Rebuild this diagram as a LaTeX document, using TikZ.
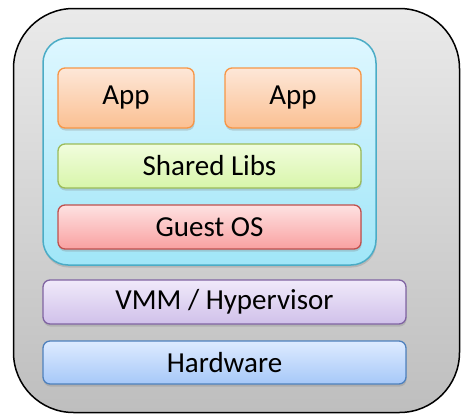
\documentclass[tikz,border=0pt]{standalone}
\usepackage{fontspec}
\setmainfont{Carlito}
\usetikzlibrary{shadows}
\begin{document}
\begin{tikzpicture}[x=1pt,y=-1pt,
  layer/.style={draw, rounded corners=7pt, line width=1.3pt, inner sep=0pt,
    font=\fontsize{29}{32}\selectfont, text=black,
    drop shadow={opacity=0.3, shadow xshift=0.5pt, shadow yshift=-2.5pt}},
  appbox/.style={layer, draw={rgb,255:red,247;green,150;blue,70},
    top color={rgb,255:red,253;green,231;blue,216}, bottom color={rgb,255:red,251;green,192;blue,146}},
  libbox/.style={layer, draw={rgb,255:red,155;green,187;blue,89},
    top color={rgb,255:red,241;green,253;blue,221}, bottom color={rgb,255:red,216;green,245;blue,170}},
  osbox/.style={layer, draw={rgb,255:red,192;green,80;blue,77},
    top color={rgb,255:red,254;green,226;blue,226}, bottom color={rgb,255:red,249;green,160;blue,160}},
  vmmbox/.style={layer, draw={rgb,255:red,128;green,100;blue,162},
    top color={rgb,255:red,240;green,234;blue,250}, bottom color={rgb,255:red,208;green,192;blue,234}},
  hwbox/.style={layer, draw={rgb,255:red,79;green,129;blue,189},
    top color={rgb,255:red,222;green,235;blue,255}, bottom color={rgb,255:red,166;green,200;blue,248}},
]
\useasboundingbox (0,0) rectangle (461,415);
% outer container
\node[draw=black, line width=1.5pt, rounded corners=60pt, minimum width=446pt, minimum height=404pt,
  top color={rgb,255:red,234;green,234;blue,234}, bottom color={rgb,255:red,190;green,190;blue,190}]
  (host) at (236.5,210.5) {};
% VM container
\node[draw={rgb,255:red,75;green,172;blue,198}, line width=1.5pt, rounded corners=25pt,
  minimum width=333pt, minimum height=227pt,
  top color={rgb,255:red,222;green,247;blue,255}, bottom color={rgb,255:red,160;green,230;blue,248},
  drop shadow={opacity=0.3, shadow xshift=0.5pt, shadow yshift=-2.5pt}]
  (vm) at (209.5,151.5) {};
\node[appbox, minimum width=136pt, minimum height=60pt] (app1) at (126,98) {App};
\node[appbox, minimum width=136pt, minimum height=60pt] (app2) at (293,98) {App};
\node[libbox, minimum width=303pt, minimum height=44pt] (libs) at (209.5,166) {Shared Libs};
\node[osbox, minimum width=303pt, minimum height=44pt] (os) at (209.5,227) {Guest OS};
\node[vmmbox, minimum width=363pt, minimum height=44pt] (vmm) at (224.5,302) {VMM / Hypervisor};
\node[hwbox, minimum width=363pt, minimum height=43pt] (hw) at (224.5,362.5) {Hardware};
\end{tikzpicture}
\end{document}
